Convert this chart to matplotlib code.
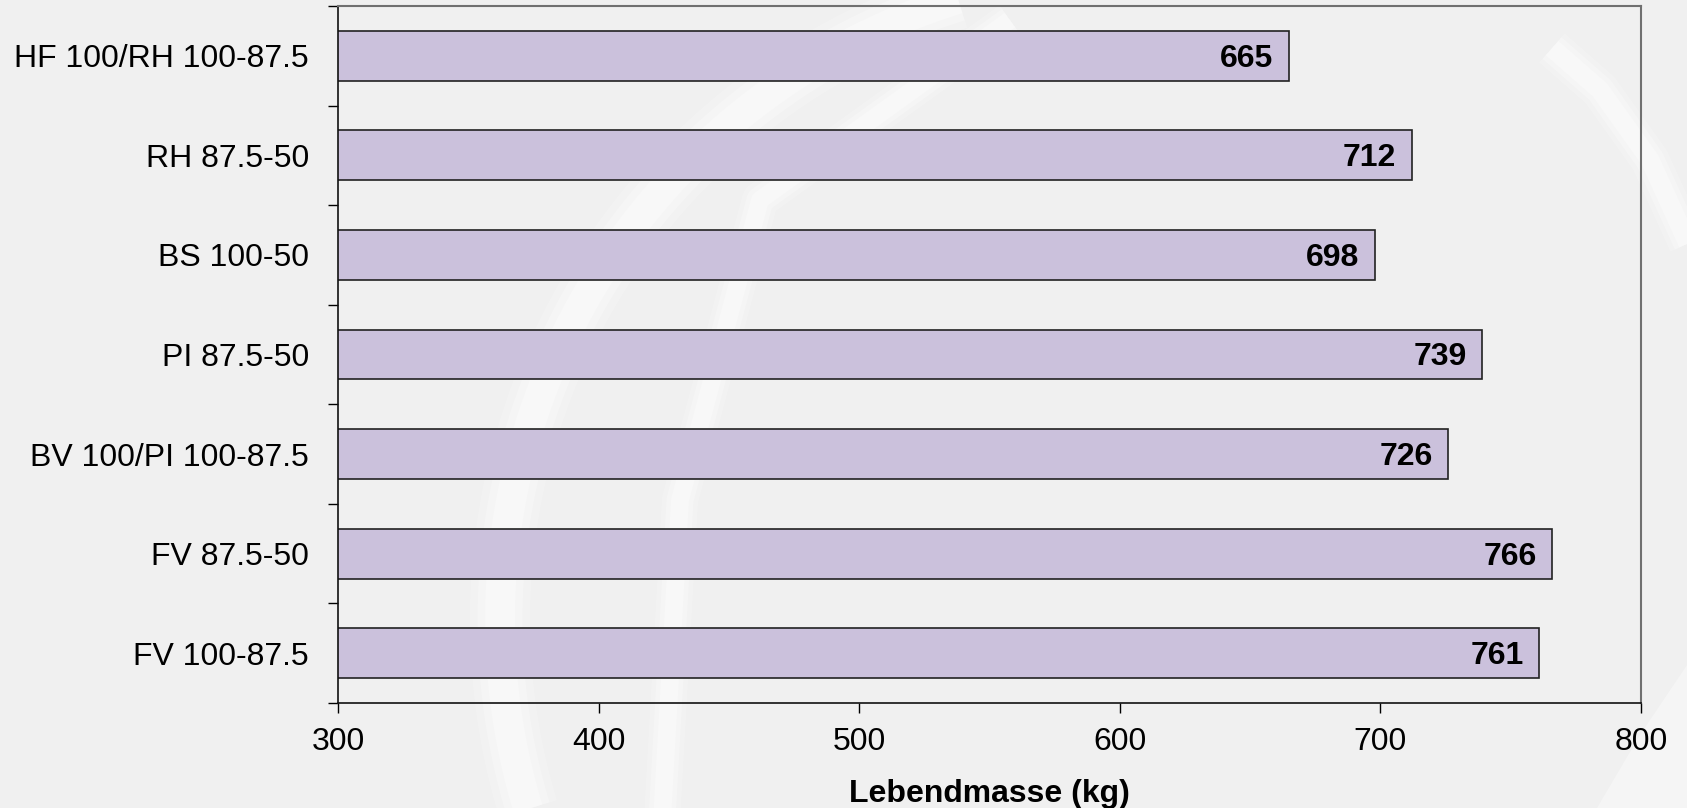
import matplotlib
matplotlib.use('Agg')
import matplotlib.pyplot as plt
from matplotlib.path import Path
from matplotlib.patches import Polygon
import numpy as np

plt.rcParams['font.family'] = ['Liberation Sans', 'DejaVu Sans']

# Lebendmasse je Rassengruppe (von oben nach unten)
rassen = ['HF 100/RH 100-87.5', 'RH 87.5-50', 'BS 100-50', 'PI 87.5-50',
          'BV 100/PI 100-87.5', 'FV 87.5-50', 'FV 100-87.5']
lebendmasse = [665, 712, 698, 739, 726, 766, 761]
x_ticks = [300, 400, 500, 600, 700, 800]

bg = '#f0f0f0'
bar_color = '#cbc1dc'
fs = 23

W, H = 1687, 808
fig = plt.figure(figsize=(W / 100, H / 100), dpi=100, facecolor=bg)

# dezenter Hintergrund-Schwung (Pixelkoordinaten, y nach unten)
deko = fig.add_axes([0, 0, 1, 1], zorder=0)
deko.set_xlim(0, W)
deko.set_ylim(H, 0)
deko.axis('off')


def soft_stroke(xs, ys, width_px):
    w = width_px * 72 / 100
    for f, a in [(1.2, 0.2), (0.9, 0.25), (0.6, 0.3)]:
        deko.plot(xs, ys, color='white', lw=w * f, alpha=a, solid_capstyle='butt')


def bezier(p0, p1, p2, p3):
    kurve = Path([p0, p1, p2, p3], [Path.MOVETO, Path.CURVE4, Path.CURVE4, Path.CURVE4])
    pts = kurve.interpolated(80).vertices
    return pts[:, 0], pts[:, 1]


t = np.radians(np.linspace(107, 200, 120))
soft_stroke(1150 + 650 * np.cos(t), 620 - 650 * np.sin(t), 50)
soft_stroke(*bezier((662, 820), (680, 500), (760, 200), (1010, 20)), 30)
soft_stroke(*bezier((1552, 48), (1600, 90), (1650, 160), (1700, 270)), 32)

deko.add_patch(Polygon([(1597, H), (1640, 735), (1687, 665), (W, H)],
                       closed=True, facecolor='white', edgecolor='none', alpha=0.35))

ax = fig.add_axes([338 / W, 1 - 703 / H, (1641 - 338) / W, (703 - 6) / H], zorder=1)
ax.patch.set_alpha(0)

y = np.arange(len(rassen))
ax.barh(y, lebendmasse, height=0.5, color=bar_color, edgecolor='#222222', linewidth=1.2)
for yi, v in zip(y, lebendmasse):
    ax.text(v - 6, yi + 0.03, str(v), ha='right', va='center', fontsize=fs, fontweight='bold')

ax.set_xlim(300, 800)
ax.set_ylim(len(rassen) - 0.5, -0.5)
ax.set_xticks(x_ticks)
ax.set_xticklabels([str(t) for t in x_ticks], fontsize=fs)
ax.tick_params(axis='x', direction='out', length=7, width=1, pad=10)

ax.set_yticks(y)
ax.set_yticklabels(rassen, fontsize=fs)
ax.set_yticks(np.arange(len(rassen) + 1) - 0.5, minor=True)
ax.tick_params(axis='y', which='major', length=0, pad=21)
ax.tick_params(axis='y', which='minor', direction='out', length=7, width=1)

ax.set_xlabel('Lebendmasse (kg)', fontsize=fs, fontweight='bold', labelpad=16)

for s in ['left', 'bottom']:
    ax.spines[s].set_color('#111111')
    ax.spines[s].set_linewidth(1.2)
for s in ['top', 'right']:
    ax.spines[s].set_color('#707070')
    ax.spines[s].set_linewidth(1.5)

fig.savefig('out.png', dpi=100, facecolor=bg)
